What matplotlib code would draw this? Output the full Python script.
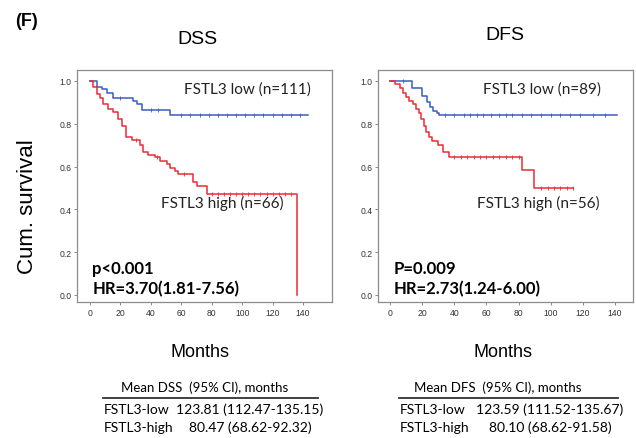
import numpy as np
import matplotlib
matplotlib.use('Agg')
import matplotlib.pyplot as plt
from matplotlib.lines import Line2D

# ── Dados ─────────────────────────────────────────────────────────────────────
dss_low_t = [0, 4.4, 7.7, 11, 15.4, 28.5, 30.7, 34, 52.6, 143]
dss_low_s = [1.0, 0.97, 0.96, 0.945, 0.92, 0.905, 0.89, 0.866, 0.843, 0.843]
dss_low_cens = [20, 40, 45, 60, 66, 72, 78, 84, 90, 96, 102, 108, 114, 120, 126, 132, 138]

dss_high_t = [0, 2.2, 4.4, 6.6, 8.8, 12, 15.4, 18.6, 20.8, 24, 27.4, 33, 35, 38,
              42.8, 46, 50.4, 52.6, 56, 58, 68, 70, 76.8, 136]
dss_high_s = [1.0, 0.97, 0.94, 0.92, 0.89, 0.87, 0.855, 0.82, 0.79, 0.74, 0.725,
              0.70, 0.67, 0.655, 0.645, 0.625, 0.61, 0.595, 0.58, 0.565, 0.53,
              0.51, 0.47, 0.0]
dss_high_cens = [30, 44, 62, 80, 84, 88, 92, 96, 100, 104, 108, 112, 116, 120, 124, 128, 132]

dfs_low_t = [0, 13.5, 19.7, 22.8, 25, 27, 29, 30.7, 141]
dfs_low_s = [1.0, 0.965, 0.93, 0.90, 0.88, 0.86, 0.85, 0.84, 0.84]
dfs_low_cens = [8, 34, 40, 46, 50, 54, 58, 63, 68, 72, 76, 82, 88, 94, 100, 106, 112, 118, 126, 134]

dfs_high_t = [0, 3, 6, 8, 10, 12, 14, 16, 18, 19.5, 21, 22.5, 24, 26, 30, 33,
              36.5, 82, 89.5, 114]
dfs_high_s = [1.0, 0.985, 0.965, 0.945, 0.925, 0.905, 0.89, 0.87, 0.85, 0.82,
              0.79, 0.76, 0.74, 0.72, 0.70, 0.67, 0.645, 0.583, 0.50, 0.50]
dfs_high_cens = [40, 44, 48, 52, 56, 60, 64, 68, 72, 76, 80, 94, 98, 102, 106, 110, 114]

panels = ['DSS', 'DFS']
low_labels = ['FSTL3 low (n=111)', 'FSTL3 low (n=89)']
high_labels = ['FSTL3 high (n=66)', 'FSTL3 high (n=56)']
p_texts = ['p<0.001', 'P=0.009']
hr_texts = ['HR=3.70(1.81-7.56)', 'HR=2.73(1.24-6.00)']
table_headers = ['Mean DSS  (95% CI), months', 'Mean DFS  (95% CI), months']
table_groups = ['FSTL3-low', 'FSTL3-high']
table_values = [['123.81 (112.47-135.15)', '80.47 (68.62-92.32)'],
                ['123.59 (111.52-135.67)', '80.10 (68.62-91.58)']]

blue = '#3b5bc4'
red = '#ee2a36'
frame = '#8c8c8c'
cal = ['Lato', 'DejaVu Sans']
arial = ['Liberation Sans', 'DejaVu Sans']

W, H = 636, 439
fig = plt.figure(figsize=(W / 100, H / 100), dpi=100)


def fx(px):
    return px / W


def fy(py):
    return 1 - py / H


def step_at(t_arr, s_arr, tc):
    idx = np.searchsorted(np.array(t_arr), tc, side='right') - 1
    return np.array(s_arr)[idx]


curves = [
    (dss_low_t, dss_low_s, dss_low_cens, dss_high_t, dss_high_s, dss_high_cens),
    (dfs_low_t, dfs_low_s, dfs_low_cens, dfs_high_t, dfs_high_s, dfs_high_cens),
]
ax_rects = [(77, 332), (378, 633)]
xlims = [(-8.5, 159), (-7.5, 151.2)]

for i, name in enumerate(panels):
    x0, x1 = ax_rects[i]
    ax = fig.add_axes([fx(x0), fy(303), fx(x1 - x0), (303 - 71) / H])
    lt, ls, lc, ht, hs, hc = curves[i]
    ax.step(lt, ls, where='post', color=blue, lw=1.1)
    ax.step(ht, hs, where='post', color=red, lw=1.1)
    ax.plot(lc, step_at(lt, ls, lc), '|', color=blue, ms=2.5, mew=0.6)
    ax.plot(hc, step_at(ht, hs, hc), '|', color=red, ms=2.5, mew=0.6)

    ax.set_xlim(*xlims[i])
    ax.set_ylim(-0.033, 1.051)
    ax.set_xticks(np.arange(0, 141, 20))
    ax.set_yticks(np.arange(0, 1.01, 0.2))
    ax.set_yticklabels([f'{v:.1f}' for v in np.arange(0, 1.01, 0.2)])
    ax.tick_params(labelsize=6.2, length=2.5, width=0.6, color='#777777',
                   labelcolor='#333333', pad=1.5)
    for lab in ax.get_xticklabels() + ax.get_yticklabels():
        lab.set_family(arial)
    for sp in ax.spines.values():
        sp.set_color(frame)
        sp.set_linewidth(0.9)

    ax.text(0.42 if i == 0 else 0.41, 0.92, low_labels[i], transform=ax.transAxes,
            fontsize=11, family=cal, color='#222222', va='center')
    ax.text(0.33 if i == 0 else 0.39, 0.43, high_labels[i], transform=ax.transAxes,
            fontsize=11, family=cal, color='#222222', va='center')
    ax.text(0.06, 0.148, p_texts[i], transform=ax.transAxes,
            fontsize=12, family=cal, fontweight='bold', va='center')
    ax.text(0.06, 0.058, hr_texts[i], transform=ax.transAxes,
            fontsize=12, family=cal, fontweight='bold', va='center')

# títulos e rótulos
fig.text(fx(15), fy(22), '(F)', fontsize=13, fontweight='bold', family=arial,
         va='center', ha='left')
fig.text(fx(197), fy(40), 'DSS', fontsize=14, family=arial, ha='center', va='center')
fig.text(fx(505), fy(36), 'DFS', fontsize=14, family=arial, ha='center', va='center')
fig.text(fx(28), fy(207), 'Cum. survival', fontsize=16, family=arial,
         rotation=90, ha='center', va='center')
fig.text(fx(200), fy(353), 'Months', fontsize=13, family=arial, ha='center', va='center')
fig.text(fx(503), fy(353), 'Months', fontsize=13, family=arial, ha='center', va='center')

# tabelas
tab_pos = [dict(hx=205, lx0=103, lx1=318, gx=104, vx=250),
           dict(hx=498, lx0=399, lx1=618, gx=400, vx=550)]
for i, p in enumerate(tab_pos):
    fig.text(fx(p['hx']), fy(388), table_headers[i], fontsize=9.5, family=cal,
             ha='center', va='center')
    fig.add_artist(Line2D([fx(p['lx0']), fx(p['lx1'])], [fy(399), fy(399)],
                          color='#333333', lw=1.3))
    for j, g in enumerate(table_groups):
        yy = fy(410 + 18 * j)
        fig.text(fx(p['gx']), yy, g, fontsize=10, family=cal, ha='left', va='center')
        fig.text(fx(p['vx']), yy, table_values[i][j], fontsize=10, family=cal,
                 ha='center', va='center')

fig.savefig('out.png', dpi=100, facecolor='white')
